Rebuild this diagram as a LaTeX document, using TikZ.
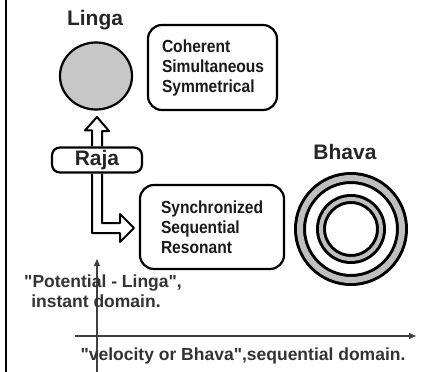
\documentclass[tikz,border=0pt]{standalone}
\usepackage{fontspec}
\setmainfont{Liberation Sans}
\newfontfamily\tallsans[FakeStretch=0.89]{Liberation Sans}
\usetikzlibrary{arrows.meta,positioning,shapes.geometric}

\begin{document}
\begin{tikzpicture}[x=1pt,y=-1pt,line join=round,
  title/.style={font=\fontsize{21}{22}\selectfont\bfseries,text=black!85},
  infobox/.style={draw,line width=2.2pt,rounded corners=14pt,align=left,
    font=\tallsans\fontsize{17.5}{20}\selectfont\bfseries,text=black!90,inner ysep=0pt},
  hollow/.style={draw,line width=2pt},
  axis/.style={line width=1.2pt,black!75,-{Triangle[length=7pt,width=6pt]}},
  note/.style={font=\fontsize{17.5}{19}\selectfont\bfseries,text=black!80,align=center}]

\useasboundingbox (0,0) rectangle (424,372);
\draw[line width=2pt] (5.5,0) -- (5.5,372);

% potential side
\node[title]                  (lingatxt) at (95,20)   {Linga};
\node[draw,line width=2.2pt,fill=black!22,ellipse,minimum width=72pt,minimum height=67pt,inner sep=0pt]
                              (linga)    at (96,76)   {};
\node[infobox,minimum width=129pt,minimum height=85pt,inner xsep=14pt,text width=101pt]
                              (coh)      at (212.5,67.5) {Coherent\\Simultaneous\\Symmetrical};
\node[title,draw,line width=2.2pt,rounded corners=8pt,minimum width=90pt,minimum height=25pt,inner sep=0pt]
                              (raja)     at (97,160)  {Raja};

% sequential side
\node[infobox,minimum width=144pt,minimum height=84pt,inner xsep=21pt,text width=102pt]
                              (sync)     at (212,227) {Synchronized\\Sequential\\Resonant\\[7pt]};
\node[title]                  (bhavatxt) at (345,152) {Bhava};
\coordinate                   (bhava)    at (351,229);
\draw[line width=12pt] (bhava) circle[radius=51];
\draw[line width=6pt,black!25] (bhava) circle[radius=51];
\draw[line width=10pt] (bhava) circle[radius=30];
\draw[line width=4pt,black!25] (bhava) circle[radius=30];

% hollow arrows out of Raja
\fill[white] ([xshift=-5pt]raja.north) rectangle ([xshift=5pt,yshift=16pt]raja.north);
\draw[hollow] ([xshift=-5pt]raja.north) -- ++(0,-16) -- ++(-7,0) -- (97,117)
  -- (109,131) -- ++(-7,0) -- ([xshift=5pt]raja.north);
\fill[white] ([xshift=-5pt]raja.south) rectangle ([xshift=5pt,yshift=-56pt]raja.south);
\fill[white] (92,223) rectangle (121,233);
\draw[hollow] ([xshift=-5pt]raja.south) -- (92,233) -- (120,233) -- (120,242)
  -- (134,228) -- (120,214) -- (120,223) -- (102,223) -- ([xshift=5pt]raja.south);

% axes
\coordinate (origin) at (97,372);
\draw[axis] (origin) -- (97,259);
\coordinate (hstart) at (75,336);
\draw[axis] (hstart) -- (416,336);
\node[note] (pot) at (103,283) {\textquotedbl Potential - Linga\textquotedbl,};
\node[note] (ins) at (96,301)  {instant domain.};
\node[note] (vel) at (243,356) {\textquotedbl velocity or Bhava\textquotedbl,sequential domain.};

\end{tikzpicture}
\end{document}
